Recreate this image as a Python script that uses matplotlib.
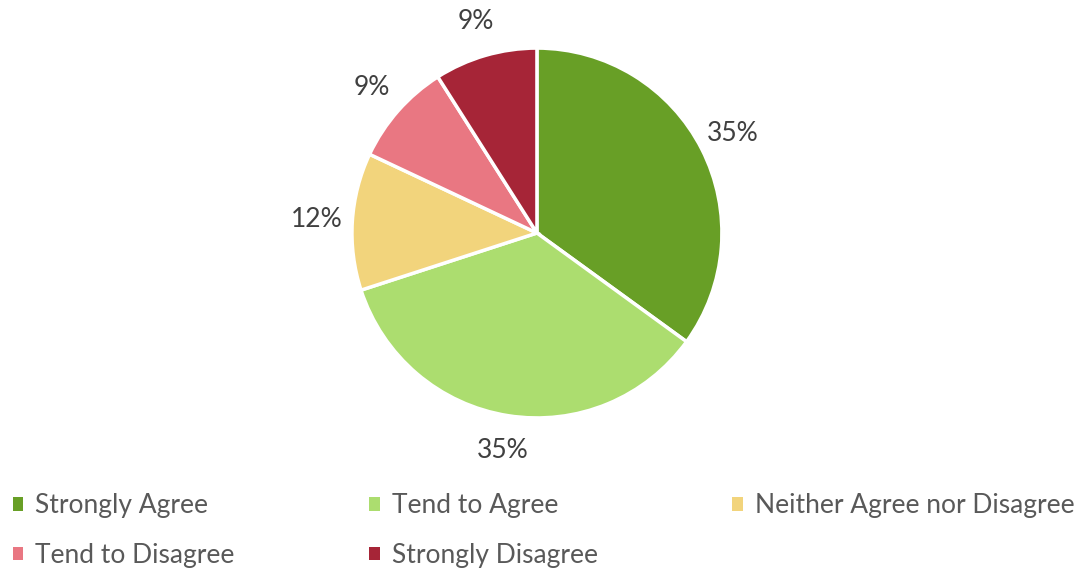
import matplotlib.pyplot as plt
from matplotlib.patches import Patch

# survey answers, share in percent
categories = ['Strongly Agree', 'Tend to Agree', 'Neither Agree nor Disagree',
              'Tend to Disagree', 'Strongly Disagree']
shares = [35, 35, 12, 9, 9]
colors = ['#689f26', '#acdd6f', '#f2d47c', '#e97782', '#a62537']

plt.rcParams['font.family'] = ['Lato', 'DejaVu Sans']

fig = plt.figure(figsize=(10.77, 5.69), dpi=100)
ax = fig.add_axes([0.3268, 0.2655, 0.3435, 0.650])

wedges, texts = ax.pie(
    shares, colors=colors, startangle=90, counterclock=False,
    labels=[f'{v}%' for v in shares], labeldistance=1.19,
    wedgeprops=dict(edgecolor='white', linewidth=2.5),
    textprops=dict(fontsize=19, color='#404040'))
for t in texts:
    t.set_horizontalalignment('center')
    t.set_verticalalignment('center')
ax.set_xlim(-1, 1)
ax.set_ylim(-1, 1)
ax.set_aspect('auto')

# legend filled row by row: reorder for matplotlib's column-wise fill
handles = [Patch(facecolor=c, edgecolor='none') for c in colors]
order = [0, 3, 1, 4, 2]
fig.legend([handles[i] for i in order], [categories[i] for i in order],
           ncol=3, loc='upper left', bbox_to_anchor=(0.012, 0.133),
           frameon=False, fontsize=19, labelcolor='#595959',
           borderaxespad=0, borderpad=0,
           handlelength=0.4, handleheight=0.4, handletextpad=0.45,
           columnspacing=5.1, labelspacing=0.93)

fig.savefig('out.png', dpi=100)
